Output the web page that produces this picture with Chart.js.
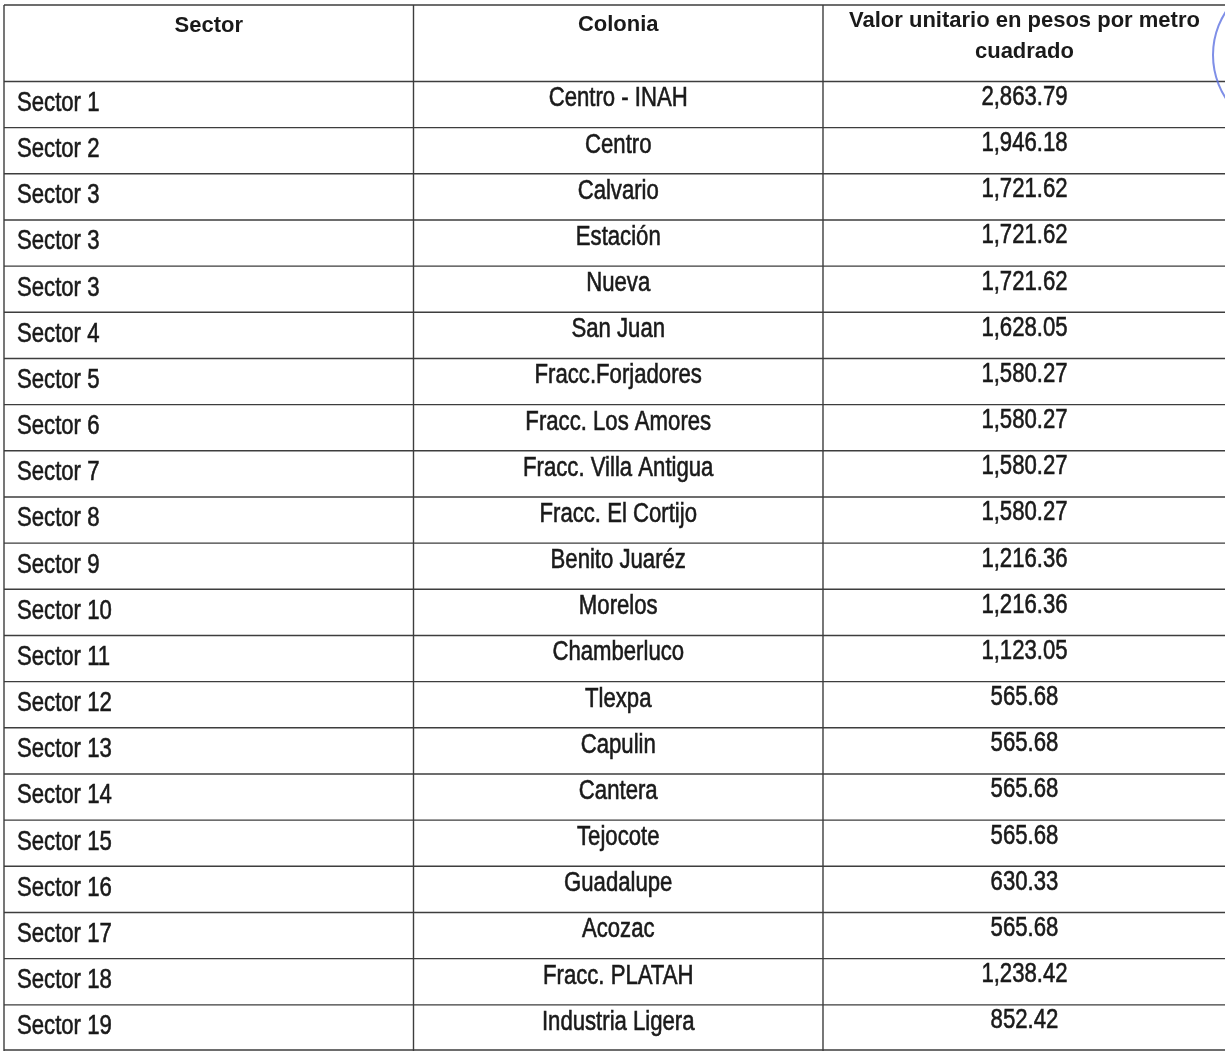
<!DOCTYPE html>
<html>
<head>
<meta charset="utf-8">
<script src="https://cdn.jsdelivr.net/npm/chart.js@4.4.1/dist/chart.umd.min.js"></script>
<style>
  html, body { margin: 0; padding: 0; background: #ffffff; overflow: hidden; }
  #wrap { position: relative; width: 1225px; height: 1051px; }
</style>
</head>
<body>
<div id="wrap"><canvas id="c"></canvas></div>
<script>
// ---- data ----
const headers = ['Sector', 'Colonia', 'Valor unitario en pesos por metro', 'cuadrado'];
const sectors = ['Sector 1', 'Sector 2', 'Sector 3', 'Sector 3', 'Sector 3', 'Sector 4', 'Sector 5',
  'Sector 6', 'Sector 7', 'Sector 8', 'Sector 9', 'Sector 10', 'Sector 11', 'Sector 12',
  'Sector 13', 'Sector 14', 'Sector 15', 'Sector 16', 'Sector 17', 'Sector 18', 'Sector 19'];
const colonias = ['Centro - INAH', 'Centro', 'Calvario', 'Estación', 'Nueva', 'San Juan',
  'Fracc.Forjadores', 'Fracc. Los Amores', 'Fracc. Villa Antigua', 'Fracc. El Cortijo',
  'Benito Juaréz', 'Morelos', 'Chamberluco', 'Tlexpa', 'Capulin', 'Cantera', 'Tejocote',
  'Guadalupe', 'Acozac', 'Fracc. PLATAH', 'Industria Ligera'];
const valores = [2863.79, 1946.18, 1721.62, 1721.62, 1721.62, 1628.05, 1580.27, 1580.27,
  1580.27, 1580.27, 1216.36, 1216.36, 1123.05, 565.68, 565.68, 565.68, 565.68, 630.33,
  565.68, 1238.42, 852.42];

// ---- layout (scale units) ----
const HEADER_UNITS = 1.656;             // header row height in data-row units
const TOTAL_UNITS = HEADER_UNITS + sectors.length;
const COLS = 2.9817;                     // visible column units (last column cut by page edge)

const fmt = v => v.toLocaleString('en-US', { minimumFractionDigits: 2, maximumFractionDigits: 2 });

const tablePlugin = {
  id: 'tablePlugin',
  afterDraw(chart) {
    const ctx = chart.ctx;
    const xs = chart.scales.x, ys = chart.scales.y;
    const X = v => xs.getPixelForValue(v);
    const Y = v => ys.getPixelForValue(v);
    ctx.save();

    // grid lines
    ctx.strokeStyle = '#3d3d3d';
    ctx.lineWidth = 1.4;
    const left = X(0), right = X(COLS);
    const hLines = [0, HEADER_UNITS];
    for (let i = 1; i <= sectors.length; i++) hLines.push(HEADER_UNITS + i);
    hLines.forEach(u => {
      const y = Math.min(Y(u), chart.height - 1);
      ctx.beginPath(); ctx.moveTo(left, y); ctx.lineTo(right, y); ctx.stroke();
    });
    [0, 1, 2].forEach(c => {
      const x = X(c);
      ctx.beginPath(); ctx.moveTo(x, Y(0)); ctx.lineTo(x, chart.height); ctx.stroke();
    });

    // header text
    ctx.fillStyle = '#1a1a1a';
    ctx.font = 'bold 22px "Liberation Sans", Arial, sans-serif';
    ctx.textAlign = 'center';
    ctx.textBaseline = 'alphabetic';
    const top = Y(0);
    ctx.fillText(headers[0], X(0.5), top + 26.5);
    ctx.fillText(headers[1], X(1.5), top + 26);
    ctx.fillText(headers[2], X(2.492), top + 21.5);
    ctx.fillText(headers[3], X(2.492), top + 52.5);

    // body text (narrow face)
    ctx.font = '27px "Liberation Sans", Arial, sans-serif';
    ctx.strokeStyle = '#1a1a1a';
    ctx.lineWidth = 0.6;
    const drawNarrow = (txt, x, y, align) => {
      ctx.save();
      ctx.translate(x, y);
      ctx.scale(0.82, 1);
      ctx.textAlign = align;
      ctx.fillText(txt, 0, 0);
      ctx.strokeText(txt, 0, 0);
      ctx.restore();
    };
    sectors.forEach((s, i) => {
      const rowTop = Y(HEADER_UNITS + i);
      drawNarrow(s, X(0) + 13, rowTop + 29.5, 'left');
      drawNarrow(colonias[i], X(1.5), rowTop + 25, 'center');
      drawNarrow(fmt(valores[i]), X(2.492), rowTop + 23.5, 'center');
    });

    // partial blue stamp ring at the page edge
    ctx.strokeStyle = 'rgba(95,115,225,0.8)';
    ctx.lineWidth = 2;
    ctx.beginPath();
    ctx.arc(1292.5, 55, 79.5, 0, Math.PI * 2);
    ctx.stroke();

    ctx.restore();
  }
};

new Chart(document.getElementById('c'), {
  type: 'scatter',
  data: { datasets: [] },
  options: {
    responsive: true,
    maintainAspectRatio: false,
    animation: false,
    layout: { padding: { left: 4, top: 5, right: 0, bottom: 0 } },
    plugins: { legend: { display: false }, tooltip: { enabled: false } },
    scales: {
      x: { type: 'linear', min: 0, max: COLS, display: false },
      y: { type: 'linear', min: 0, max: TOTAL_UNITS, reverse: true, display: false }
    }
  },
  plugins: [tablePlugin]
});
</script>
</body>
</html>
